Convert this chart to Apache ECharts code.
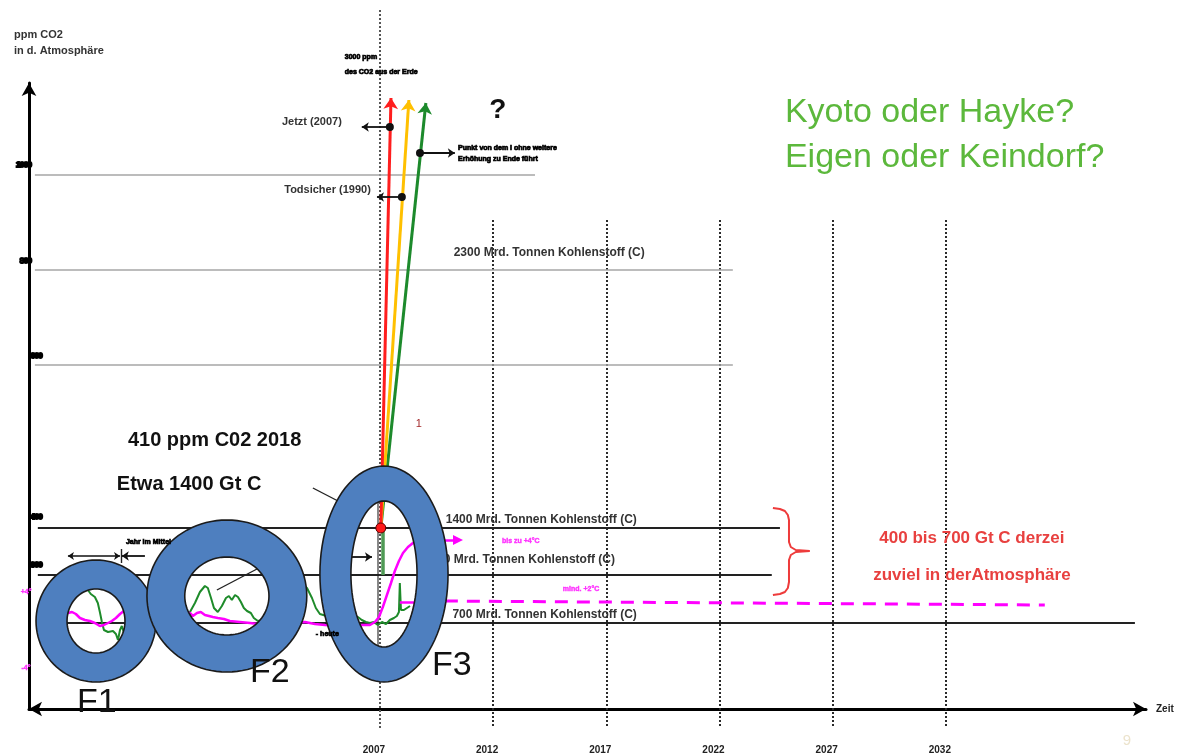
<!DOCTYPE html>
<html>
<head>
<meta charset="utf-8">
<script src="https://cdn.jsdelivr.net/npm/echarts@6/dist/echarts.min.js"></script>
<style>
  html, body { margin: 0; padding: 0; background: #ffffff; }
  #chart { width: 1190px; height: 756px; }
</style>
</head>
<body>
<div id="chart"></div>
<script>
// ---------- data ----------
const yearTicks = [2007, 2012, 2017, 2022, 2027, 2032];

// grey guide levels and where they end on the time axis
const guideLevels = [534, 439, 344];
const guideEnds = [2013.85, 2022.59, 2022.59];

// carbon stock levels (Mrd. Tonnen Kohlenstoff)
const carbonStock = [1400, 1000, 700];
const carbonLevels = [181, 134, 86];
const carbonEnds = [2024.67, 2024.31, 2040.35];

// axis marks on the ppm scale
const ppmMarks = ['1000', '800', '600', '400', '300'];
const ppmMarkLevels = [544, 448, 353, 192, 144];

// CO2 record through the warm/cold cycles
const co2Record = [
  [1993.75, 124], [1994.10, 119], [1994.23, 115], [1994.41, 112], [1994.54, 106], [1994.63, 97],
  [1994.72, 87], [1994.81, 79], [1994.99, 77], [1995.21, 78], [1995.34, 75], [1995.43, 69],
  [1995.52, 79], [1995.60, 83], [1995.74, 73], [1996.05, 69], [1996.84, 89], [1997.72, 94],
  [1998.39, 95], [1998.61, 97], [1998.83, 106], [1999.05, 117], [1999.27, 123], [1999.40, 121],
  [1999.54, 111], [1999.67, 101], [1999.84, 97], [2000.02, 103], [2000.20, 111], [2000.33, 113],
  [2000.46, 109], [2000.60, 114], [2000.73, 112], [2000.86, 107], [2000.99, 101], [2001.13, 98],
  [2001.30, 96], [2001.43, 91], [2001.61, 88], [2002.14, 91], [2003.02, 119], [2003.47, 127],
  [2003.78, 121], [2004.00, 111], [2004.17, 101], [2004.35, 95], [2004.79, 92], [2005.23, 91],
  [2005.67, 92], [2006.03, 92], [2006.20, 89], [2006.38, 87], [2006.56, 86], [2006.73, 87],
  [2006.91, 84], [2007.09, 87], [2007.27, 85], [2007.44, 89], [2007.62, 91], [2007.75, 93],
  [2007.84, 97], [2007.88, 126], [2007.93, 99], [2008.06, 99], [2008.33, 103]
];

// temperature record, ending in the modern rise
const tempRecord = [
  [1992.64, 97], [1993.22, 96], [1993.40, 97], [1993.57, 95], [1993.75, 91], [1993.97, 89],
  [1994.19, 88], [1994.41, 86], [1994.63, 83], [1994.81, 84], [1994.99, 86], [1995.16, 88],
  [1995.34, 91], [1995.52, 95], [1995.74, 99], [1996.18, 101], [1997.72, 99], [1998.61, 96],
  [1998.74, 93], [1998.92, 96], [1999.09, 97], [1999.27, 94], [1999.45, 93], [1999.62, 92],
  [1999.84, 91], [2000.11, 90], [2000.37, 88], [2000.82, 87], [2001.26, 86], [2001.61, 85],
  [2002.58, 85], [2003.69, 87], [2004.13, 85], [2004.57, 84], [2005.67, 83], [2006.12, 84],
  [2006.56, 84], [2006.78, 87], [2006.96, 92], [2007.13, 102], [2007.31, 114], [2007.49, 126],
  [2007.66, 138], [2007.84, 148], [2008.02, 156], [2008.24, 162], [2008.46, 166], [2008.77, 168],
  [2009.65, 169]
];
const tempRiseTip = [[2009.65, 169], [2010.45, 169]];
const tempPlateau = [[2007.88, 107], [2009.87, 107]];
const tempPlateauAhead = [[2009.87, 108], [2036.37, 104]];

// three emission paths leaving today's level
const pathStart = [2007.04, 181];
const pathRed = [2007.49, 611];
const pathYellow = [2008.28, 609];
const pathGreen = [2009.03, 606];

// milestones on the paths
const milestoneJetzt = [2007.44, 582];
const milestoneTodsicher = [2007.97, 512];
const milestoneKipp = [2008.77, 556];

// the three phases F1..F3: centre, outer and inner half extents
const phaseRings = [
  [1994.46, 88, 2.65, 61, 1.28, 32],
  [2000.24, 113, 3.53, 76, 1.86, 39],
  [2007.18, 135, 2.83, 108, 1.46, 73]
];
const phaseNames = ['F1', 'F2', 'F3'];

// brace around the surplus band
const surplusBrace = [
  [2024.36, 201], [2024.67, 200], [2024.89, 198], [2025.02, 194], [2025.07, 189], [2025.07, 167],
  [2025.15, 162], [2025.37, 159], [2025.99, 158], [2025.37, 157], [2025.15, 154], [2025.07, 149],
  [2025.07, 127], [2025.02, 121], [2024.89, 117], [2024.67, 115], [2024.36, 114]
];

// ---------- helpers ----------
const FONT = "'Liberation Sans', Arial, Helvetica, sans-serif";

function textSeries(items, base, z) {
  return {
    type: 'scatter', silent: true, clip: false, z: z,
    symbolSize: 0.01, itemStyle: { color: 'rgba(0,0,0,0)', opacity: 1 },
    data: items.map(function (it) {
      return {
        value: it.at,
        label: Object.assign({
          show: true, position: [0, 0], formatter: it.text,
          fontFamily: FONT, align: 'left', verticalAlign: 'middle',
          textBorderWidth: 0, textShadowBlur: 0, opacity: 1
        }, base, it.style || {})
      };
    })
  };
}

function segSeries(segs, style, symbol, symbolSize, z) {
  return {
    type: 'lines', coordinateSystem: 'cartesian2d', clip: false, silent: true, z: z,
    symbol: symbol || ['none', 'none'], symbolSize: symbolSize || 8,
    lineStyle: Object.assign({ opacity: 1, curveness: 0 }, style),
    data: segs.map(function (s) { return { coords: s }; })
  };
}

function curveSeries(points, color, width, z, extra) {
  return Object.assign({
    type: 'line', data: points, showSymbol: false, symbol: 'none', clip: false, silent: true, z: z,
    lineStyle: { color: color, width: width }
  }, extra || {});
}

function ringPath(c, o, h) {
  const N = 96;
  let d = '';
  for (let k = 0; k <= N; k++) {
    const t = 2 * Math.PI * k / N;
    d += (k ? 'L' : 'M') + (c[0] + o[0] * Math.cos(t)).toFixed(2) + ' ' + (c[1] + o[1] * Math.sin(t)).toFixed(2) + ' ';
  }
  d += 'Z ';
  for (let k = 0; k <= N; k++) {
    const t = -2 * Math.PI * k / N;
    d += (k ? 'L' : 'M') + (c[0] + h[0] * Math.cos(t)).toFixed(2) + ' ' + (c[1] + h[1] * Math.sin(t)).toFixed(2) + ' ';
  }
  return d + 'Z';
}

// ---------- series ----------
const series = [];

// dotted year markers
series.push(segSeries(
  yearTicks.slice(1).map(function (y) { return [[y, 489], [y, -19]]; }),
  { color: '#2a2a2a', width: 2, type: [2, 2] }, null, null, 1));
series.push(segSeries([[[yearTicks[0], 699], [yearTicks[0], -19]]],
  { color: '#555', width: 2, type: [2, 2] }, null, null, 1));
series.push(segSeries([[[2006.91, 209], [2006.91, 54]]], { color: '#888', width: 2 }, null, null, 1));

// guide and carbon levels
series.push(segSeries(guideLevels.map(function (v, i) { return [[1991.76, v], [guideEnds[i], v]]; }),
  { color: '#a6a6a6', width: 1.6 }, null, null, 1));
series.push(segSeries(carbonLevels.map(function (v, i) { return [[1991.89, v], [carbonEnds[i], v]]; }),
  { color: '#222', width: 1.8 }, null, null, 1));

// level labels (partly hidden behind F3)
series.push(textSeries(
  [{ at: [2018.70, 456], text: '2300 Mrd. Tonnen Kohlenstoff (C)' }].concat(
    carbonStock.map(function (s, i) {
      return { at: [i === 1 ? 2017.38 : 2018.35, carbonLevels[i] + (i === 1 ? 15 : 8)], text: s + ' Mrd. Tonnen Kohlenstoff (C)' };
    })),
  { fontSize: 12, fontWeight: 'bold', color: '#333', align: 'right' }, 2));

// records
series.push(curveSeries(co2Record, '#1e8b2a', 2, 2));
series.push(curveSeries(tempRecord, '#ff00ff', 2.5, 3));
series.push(segSeries([tempRiseTip], { color: '#ff00ff', width: 2.5 }, ['none', 'triangle'], 10, 3));
series.push(segSeries([tempPlateau], { color: '#ff00ff', width: 2.5 }, null, null, 3));
series.push(segSeries([tempPlateauAhead], { color: '#ff00ff', width: 3, type: [13, 9] }, null, null, 3));

// green band at today's value
series.push(segSeries([[[2007.13, 181], [2007.13, 134]]], { color: '#4f9a55', width: 3.5 }, null, null, 2));

// emission paths
series.push(segSeries([[pathStart, pathGreen]], { color: '#1d8a2c', width: 3 }, ['none', 'arrow'], 11, 3));
series.push(segSeries([[pathStart, pathYellow]], { color: '#ffc000', width: 3 }, ['none', 'arrow'], 11, 3));
series.push(segSeries([[pathStart, pathRed]], { color: '#ff1e1e', width: 3 }, ['none', 'arrow'], 11, 3));

// milestone arrows and dots
series.push(segSeries([
  [milestoneJetzt, [2006.20, milestoneJetzt[1]]],
  [milestoneTodsicher, [2006.87, milestoneTodsicher[1]]],
  [milestoneKipp, [2010.31, milestoneKipp[1]]],
  [[1996.62, 153], [1995.60, 153]],
  [[2005.67, 152], [2006.65, 152]]
], { color: '#111', width: 1.8 }, ['none', 'arrow'], 7, 4));
series.push(segSeries([[[1993.22, 153], [1995.52, 153]]], { color: '#111', width: 1.5 }, ['arrow', 'arrow'], 6, 4));
series.push(segSeries([
  [[1995.56, 160], [1995.56, 146]],
  [[2004.04, 221], [2005.32, 206]],
  [[1999.80, 119], [2001.57, 140]]
], { color: '#222', width: 1.4 }, null, null, 4));
series.push({
  type: 'scatter', silent: true, clip: false, z: 4, symbolSize: 8,
  itemStyle: { color: '#111', opacity: 1 },
  data: [milestoneJetzt, milestoneTodsicher, milestoneKipp]
});
series.push({
  type: 'scatter', silent: true, clip: false, z: 4, symbolSize: 10,
  itemStyle: { color: '#ff1a1a', borderColor: '#5a0000', borderWidth: 1, opacity: 1 },
  data: [pathStart]
});

// brace
series.push(curveSeries(surplusBrace, '#ee3b3b', 2, 4));

// phase rings
series.push({
  type: 'custom', coordinateSystem: 'cartesian2d', silent: true, z: 6,
  data: phaseRings,
  renderItem: function (params, api) {
    const c = api.coord([api.value(0), api.value(1)]);
    const o = api.size([api.value(2), api.value(3)]);
    const h = api.size([api.value(4), api.value(5)]);
    return {
      type: 'path',
      shape: { pathData: ringPath(c, o, h) },
      style: { fill: '#4e7fbf', stroke: '#1b1b1b', lineWidth: 1.6 }
    };
  }
});

// phase names
series.push(textSeries([
  { at: [1994.50, 6], text: phaseNames[0] },
  { at: [2002.14, 36], text: phaseNames[1] },
  { at: [2010.18, 43], text: phaseNames[2] }
], { fontSize: 34, color: '#111', align: 'center' }, 8));

// headline annotations
series.push(textSeries([
  { at: [1995.87, 269], text: '410 ppm C02 2018' },
  { at: [1995.38, 225], text: 'Etwa 1400 Gt C' }
], { fontSize: 20, fontWeight: 'bold', color: '#111' }, 8));

series.push(textSeries([
  { at: [2024.89, 596], text: 'Kyoto oder Hayke?' },
  { at: [2024.89, 551], text: 'Eigen oder Keindorf?' }
], { fontSize: 34, color: '#5cb83c' }, 8));

series.push(textSeries([
  { at: [2033.15, 171], text: '400 bis 700 Gt C derzei' },
  { at: [2033.15, 134], text: 'zuviel in derAtmosphäre' }
], { fontSize: 17, fontWeight: 'bold', color: '#e8403f', align: 'center' }, 8));

series.push(textSeries([
  { at: [2005.32, 587], text: 'Jetzt (2007)' },
  { at: [2006.60, 519], text: 'Todsicher (1990)' }
], { fontSize: 11, fontWeight: 'bold', color: '#333', align: 'right' }, 8));

series.push(textSeries([{ at: [2012.21, 599], text: '?' }],
  { fontSize: 28, fontWeight: 'bold', color: '#111', align: 'center' }, 8));

series.push(textSeries([{ at: [2008.72, 285], text: '1' }],
  { fontSize: 11, color: '#a3282a', align: 'center' }, 8));

// small print
series.push(textSeries([
  { at: [2005.45, 652], text: '3000 ppm' },
  { at: [2005.45, 637], text: 'des CO2 aus der Erde' },
  { at: [2010.45, 561], text: 'Punkt von dem I ohne weitere' },
  { at: [2010.45, 550], text: 'Erhöhung zu Ende führt' },
  { at: [1995.78, 167], text: 'Jahr im Mittel' },
  { at: [2004.17, 75], text: '- heute' }
], { fontSize: 7, fontWeight: 'bold', color: '#000', textBorderColor: '#000', textBorderWidth: 0.7 }, 8));

series.push(textSeries([
  { at: [2012.39, 168], text: 'bis zu +4°C' },
  { at: [2015.08, 120], text: 'mind. +2°C' },
  { at: [1991.37, 117], text: '+4°', style: { align: 'center' } },
  { at: [1991.37, 41], text: '-4°', style: { align: 'center' } }
], { fontSize: 7, fontWeight: 'bold', color: '#ff33ff', textBorderColor: '#ff33ff', textBorderWidth: 0.4 }, 8));

// ppm scale marks
series.push(textSeries(ppmMarks.map(function (m, i) {
  return { at: [i < 2 ? 1991.62 : 1991.58, ppmMarkLevels[i]], text: m, style: { align: i < 2 ? 'right' : 'left' } };
}), { fontSize: 7, fontWeight: 'bold', color: '#000', textBorderColor: '#000', textBorderWidth: 2.2 }, 8));

// year labels
series.push(textSeries(yearTicks.map(function (y) { return { at: [y, -41], text: String(y) }; }),
  { fontSize: 10, fontWeight: 'bold', color: '#222', align: 'center', offset: [-6, 0] }, 8));

// slide number
series.push(textSeries([{ at: [2040.0, -32], text: '9' }],
  { fontSize: 15, color: '#ece3cc', align: 'center' }, 8));

// ---------- chart ----------
const chart = echarts.init(document.getElementById('chart'), null, { renderer: 'canvas' });
chart.setOption({
  animation: false,
  backgroundColor: '#ffffff',
  title: {
    text: 'ppm CO2\nin d. Atmosphäre',
    left: 9, top: 22,
    textStyle: { fontSize: 11, fontWeight: 'bold', color: '#333', lineHeight: 16, fontFamily: FONT }
  },
  grid: { left: 29, right: 44, top: 83, bottom: 47, containLabel: false },
  xAxis: {
    type: 'value', min: 1991.5, max: 2040.84,
    name: 'Zeit', nameLocation: 'end', nameGap: 10,
    nameTextStyle: { fontSize: 10, fontWeight: 'bold', color: '#222', fontFamily: FONT },
    axisLine: { show: true, lineStyle: { color: '#000', width: 3 }, symbol: ['arrow', 'arrow'], symbolSize: [11, 13] },
    axisTick: { show: false }, axisLabel: { show: false }, splitLine: { show: false }
  },
  yAxis: {
    type: 'value', min: 0, max: 626,
    axisLine: { show: true, lineStyle: { color: '#000', width: 3 }, symbol: ['none', 'arrow'], symbolSize: [11, 13] },
    axisTick: { show: false }, axisLabel: { show: false }, splitLine: { show: false }
  },
  series: series
});
</script>
</body>
</html>
